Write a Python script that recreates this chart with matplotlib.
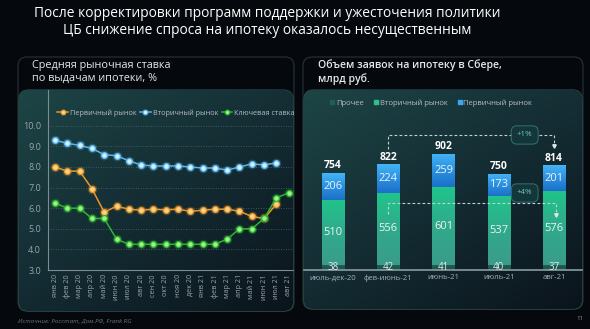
import numpy as np
import matplotlib.pyplot as plt
from matplotlib.patches import FancyBboxPatch
from matplotlib.colors import LinearSegmentedColormap
from matplotlib.lines import Line2D

plt.rcParams['font.family'] = ['Open Sans', 'DejaVu Sans']

# left chart: average mortgage rate, %
months = ['янв 20', 'фев 20', 'мар 20', 'апр 20', 'май 20', 'июн 20', 'июл 20',
          'авг 20', 'сен 20', 'окт 20', 'ноя 20', 'дек 20', 'янв 21', 'фев 21',
          'мар 21', 'апр 21', 'май 21', 'июн 21', 'июл 21', 'авг 21']
primary_rate = [8.0, 7.8, 7.8, 6.95, 5.8, 6.1, 5.95, 5.9, 5.95, 5.92, 5.95, 5.85,
                5.9, 5.95, 5.95, 5.85, 5.6, 5.5, 6.2]
secondary_rate = [9.3, 9.15, 9.05, 8.9, 8.6, 8.55, 8.3, 8.1, 8.05, 8.05, 8.05, 8.0,
                  7.95, 7.95, 7.85, 8.0, 8.15, 8.1, 8.2]
key_rate = [6.25, 6.0, 6.0, 5.5, 5.5, 4.5, 4.25, 4.25, 4.25, 4.25, 4.25, 4.25,
            4.25, 4.25, 4.5, 5.0, 5.0, 5.5, 6.5, 6.75]

# right chart: mortgage applications, bn rub
periods = ['июль-дек-20', 'фев-июнь-21', 'июнь-21', 'июль-21', 'авг-21']
other_vol = [38, 42, 41, 40, 37]
secondary_vol = [510, 556, 601, 537, 576]
primary_vol = [206, 224, 259, 173, 201]
total_vol = [754, 822, 902, 750, 814]
growth_total = '+1%'
growth_secondary = '+4%'

W, H = 590, 329
fig = plt.figure(figsize=(5.9, 3.29), dpi=100)
fig.patch.set_facecolor('#05080c')


def fx(x):
    return x / W


def fy(y):
    return 1 - y / H


# background layer in pixel coords
bg = fig.add_axes([0, 0, 1, 1], zorder=-5)
bg.set_xlim(0, W)
bg.set_ylim(H, 0)
bg.axis('off')

box_cmap = LinearSegmentedColormap.from_list('box', ['#1d4546', '#142c33', '#0b141c'])
ny, nx = 100, 150
gi, gj = np.mgrid[0:ny, 0:nx]
grad = 0.55 * gi / ny + 0.45 * gj / nx

for (x0, y0, x1, y1) in [(18, 57, 294, 311), (303, 57, 583, 309)]:
    outer = FancyBboxPatch((x0, y0), x1 - x0, y1 - y0,
                           boxstyle='round,pad=0,rounding_size=9',
                           facecolor='#05080c', edgecolor='#26343a', lw=0.8)
    bg.add_patch(outer)
    inner = FancyBboxPatch((x0 + 1, 90), x1 - x0 - 2, y1 - 90,
                           boxstyle='round,pad=0,rounding_size=9',
                           facecolor='none', edgecolor='#3a6a68', lw=0.6)
    bg.add_patch(inner)
    im = bg.imshow(grad, cmap=box_cmap, extent=(x0 + 1, x1 - 1, y1, 90),
                   origin='upper', aspect='auto', zorder=1)
    im.set_clip_path(inner)
bg.set_xlim(0, W)
bg.set_ylim(H, 0)

# titles
fig.text(fx(267), fy(22), 'После корректировки программ поддержки и ужесточения политики\n'
         'ЦБ снижение спроса на ипотеку оказалось несущественным',
         ha='center', va='center', fontsize=9.9, color='white', linespacing=1.2)
fig.text(fx(32), fy(72), 'Средняя рыночная ставка\nпо выдачам ипотеки, %',
         ha='left', va='center', fontsize=7.8, color='#e6e8ea', linespacing=1.2)
fig.text(fx(318), fy(72), 'Объем заявок на ипотеку в Сбере,\nмлрд руб.',
         ha='left', va='center', fontsize=7.6, color='#e6e8ea', linespacing=1.2,
         fontweight='semibold')
fig.text(fx(18), fy(321), 'Источник: Росстат, Дом.РФ, Frank RG', ha='left', va='center',
         fontsize=4.5, color='#6c747c', style='italic')
fig.text(fx(580), fy(318), '11', ha='center', va='center', fontsize=4.5, color='#8a929a')

# ---- left chart ----
ax1 = fig.add_axes([fx(48), fy(270), (293 - 48) / W, (270 - 90) / H])
ax1.patch.set_alpha(0)
x = np.arange(len(months))
series = [
    (primary_rate, 'Первичный рынок', '#e8962a', '#fbd48a'),
    (secondary_rate, 'Вторичный рынок', '#5ab6ea', '#d2f0ff'),
    (key_rate, 'Ключевая ставка', '#2cb52c', '#9ff08e'),
]
handles = []
for vals, name, lc, mc in series:
    xs = x[:len(vals)]
    ax1.plot(xs, vals, 'o', ms=7, color=lc, alpha=0.25, mew=0, zorder=3)
    ln, = ax1.plot(xs, vals, '-o', color=lc, lw=1.1, ms=4.2, mfc=mc, mec=lc,
                   mew=0.9, zorder=4, label=name)
    handles.append(ln)

ax1.set_xlim(-0.57, 19.35)
ax1.set_ylim(3, 3 + 180 / 20.6)
ax1.set_yticks(np.arange(3, 11))
ax1.set_yticklabels(['%.1f' % v for v in np.arange(3, 11)])
ax1.set_xticks(x)
ax1.set_xticklabels(months, rotation=90)
ax1.tick_params(axis='y', length=0, labelsize=6.5, labelcolor='#9aa4ac', pad=5)
ax1.tick_params(axis='x', length=0, labelsize=5.2, labelcolor='#9aa4ac', pad=3)
for v in np.arange(4, 11):
    ax1.axhline(v, color='#52646a', lw=0.6, ls=(0, (1, 2)), zorder=1)
for s in ['top', 'right']:
    ax1.spines[s].set_visible(False)
ax1.spines['left'].set_color('#7c8c92')
ax1.spines['bottom'].set_color('#7c8c92')
ax1.spines['left'].set_linewidth(0.8)
ax1.spines['bottom'].set_linewidth(0.8)
ax1.legend(handles=handles, loc='center', bbox_to_anchor=(fx(176), fy(113)),
           bbox_transform=fig.transFigure, ncol=3, frameon=False, fontsize=5.2,
           handlelength=1.5, columnspacing=0.5, handletextpad=0.25,
           labelcolor='#b4bcc4', markerscale=0.8)

# ---- right chart ----
ax2 = fig.add_axes([fx(304), fy(270), (582 - 304) / W, (270 - 92) / H])
ax2.patch.set_alpha(0)
xb = np.arange(len(periods))
bw = 0.4
other = np.array(other_vol)
sec = np.array(secondary_vol)
prim = np.array(primary_vol)

seg_maps = [
    (other, np.zeros(len(other)), ['#1f5e55', '#1c534c']),
    (sec, other, ['#20c48a', '#30aa8c', '#3a9c8a']),
    (prim, other + sec, ['#44b4f6', '#2a90e2', '#1c70c8']),
]
for vals, bottoms, cols in seg_maps:
    cm = LinearSegmentedColormap.from_list('seg', cols)
    bars = ax2.bar(xb, vals, bw, bottom=bottoms, color='none', lw=0)
    for b in bars:
        bx, by, bwid, bh = b.get_x(), b.get_y(), b.get_width(), b.get_height()
        g = np.linspace(0, 1, 64).reshape(-1, 1)
        im = ax2.imshow(g, cmap=cm, extent=(bx, bx + bwid, by, by + bh),
                        origin='upper', aspect='auto', zorder=2)
        im.set_clip_path(b)

for i in range(len(periods)):
    ax2.text(xb[i], other[i] / 2 + 2, str(other_vol[i]), ha='center', va='center',
             fontsize=7, color='#e4ecec', zorder=5)
    ax2.text(xb[i], other[i] + sec[i] / 2, str(secondary_vol[i]), ha='center',
             va='center', fontsize=8, color='#eef4f4', zorder=5)
    ax2.text(xb[i], other[i] + sec[i] + prim[i] / 2, str(primary_vol[i]), ha='center',
             va='center', fontsize=8, color='#eef4f4', zorder=5)
    ax2.text(xb[i], total_vol[i] + 55, str(total_vol[i]), ha='center', va='center',
             fontsize=7.5, color='white', fontweight='bold', zorder=5)

# growth annotations
dash = dict(color='#c8d0d4', lw=0.8, ls=(0, (2.5, 2)), zorder=4)
top_y = max(total_vol) + 148
ax2.plot([xb[1], xb[1], xb[4], xb[4]],
         [total_vol[1] + 119, top_y, top_y, total_vol[4] + 160], **dash)
ax2.plot(xb[4], total_vol[4] + 150, 'v', ms=2.5, color='#e0e6e8', zorder=5)
mid_y = other[1] + sec[1] - 77
ax2.plot([xb[1], xb[1], xb[4] + 0.03, xb[4] + 0.03],
         [mid_y - 86, mid_y, mid_y, mid_y - 83], **dash)
ax2.plot(xb[4] + 0.03, mid_y - 93, 'v', ms=2.5, color='#e0e6e8', zorder=5)
badge = dict(boxstyle='round,pad=0.7,rounding_size=0.7', facecolor='#14363a',
             edgecolor='#2f7470', lw=0.7)
ax2.text(3.47, top_y, growth_total, ha='center', va='center', fontsize=5.8,
         color='#6cc8b8', bbox=badge, zorder=6)
ax2.text(3.47, mid_y + 78, growth_secondary, ha='center', va='center', fontsize=5.8,
         color='#6cc8b8', bbox=badge, zorder=6)

ax2.set_xlim(-0.525, 4.507)
ax2.set_ylim(0, 178 / 0.1286)
ax2.set_xticks(xb)
ax2.set_xticklabels(periods)
ax2.set_yticks([])
ax2.tick_params(axis='x', length=0, labelsize=5.6, labelcolor='#a4acb4', pad=3)
for s in ['top', 'right', 'left']:
    ax2.spines[s].set_visible(False)
ax2.spines['bottom'].set_color('#8a9ca2')
ax2.spines['bottom'].set_linewidth(1.2)

leg_handles = [
    Line2D([], [], marker='s', ls='none', ms=3.5, color='#1f5e55', label='Прочее'),
    Line2D([], [], marker='s', ls='none', ms=3.5, color='#2ec08a', label='Вторичный рынок'),
    Line2D([], [], marker='s', ls='none', ms=3.5, color='#3aa5f0', label='Первичный рынок'),
]
ax2.legend(handles=leg_handles, loc='center', bbox_to_anchor=(fx(431), fy(103)),
           bbox_transform=fig.transFigure, ncol=3, frameon=False, fontsize=5.5,
           handlelength=0.6, columnspacing=1.3, handletextpad=0.2,
           labelcolor='#b4bcc4')

fig.savefig('out.png', dpi=100, facecolor=fig.get_facecolor())
